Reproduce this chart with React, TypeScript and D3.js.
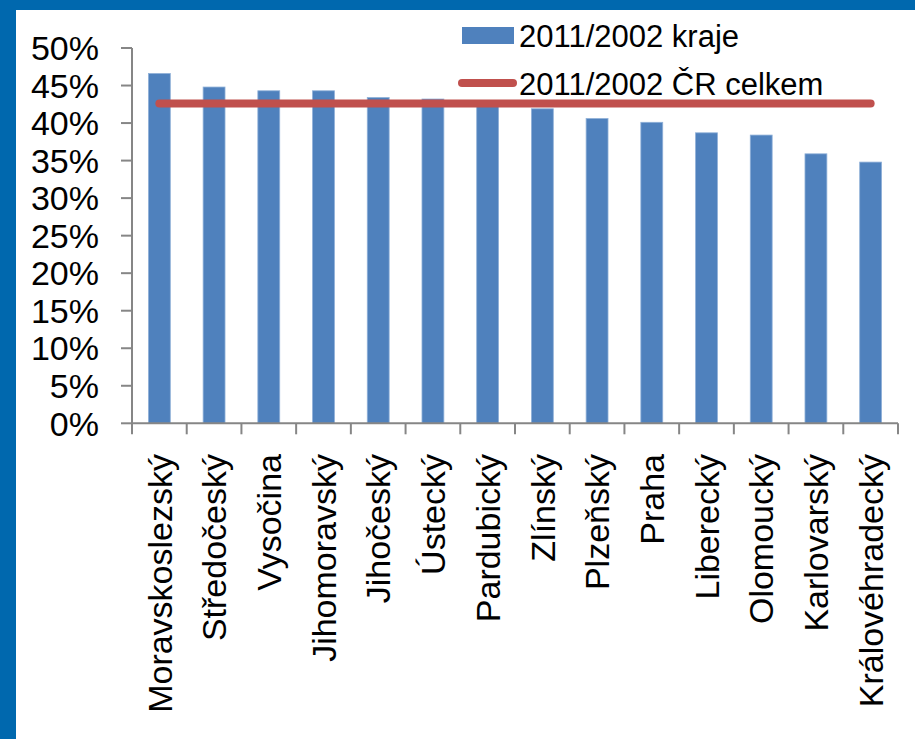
import React, { useEffect, useRef } from "react";
import * as d3 from "d3";

const regions = [
  "Moravskoslezský",
  "Středočeský",
  "Vysočina",
  "Jihomoravský",
  "Jihočeský",
  "Ústecký",
  "Pardubický",
  "Zlínský",
  "Plzeňský",
  "Praha",
  "Liberecký",
  "Olomoucký",
  "Karlovarský",
  "Královéhradecký",
];
const krajeValues = [
  46.6, 44.8, 44.3, 44.3, 43.4, 43.2, 42.9, 41.9, 40.6, 40.1, 38.7, 38.4, 35.9, 34.8,
];
const crTotal = 42.6;
const yTicks = [0, 5, 10, 15, 20, 25, 30, 35, 40, 45, 50];
const legendLabels = ["2011/2002 kraje", "2011/2002 ČR celkem"];

const W = 915;
const H = 739;
const FONT = "'Liberation Sans', Arial, sans-serif";

function Chart() {
  const ref = useRef<SVGSVGElement>(null);

  useEffect(() => {
    const svg = d3.select(ref.current);
    svg.selectAll("*").remove();

    // frame
    svg.append("rect").attr("width", W).attr("height", H).attr("fill", "#fff");
    svg.append("rect").attr("width", W).attr("height", 10).attr("fill", "#0068ae");
    svg.append("rect").attr("width", 16).attr("height", H).attr("fill", "#0068ae");

    const left = 132;
    const right = 898;
    const top = 48;
    const bottom = 423.3;

    const x = d3.scaleBand().domain(regions).range([left, right]).paddingInner(0.6).paddingOuter(0.3);
    const xEdge = d3.scaleLinear().domain([0, regions.length]).range([left, right]);
    const y = d3.scaleLinear().domain([0, 50]).range([bottom, top]);

    // bars
    svg
      .append("g")
      .selectAll("rect")
      .data(krajeValues)
      .join("rect")
      .attr("x", (_d, i) => x(regions[i])!)
      .attr("width", x.bandwidth())
      .attr("y", (d) => y(d))
      .attr("height", (d) => bottom - y(d))
      .attr("fill", "#4f81bd")
      .attr("stroke", "#8fb0d8")
      .attr("stroke-width", 0.8);

    // y axis
    const yAxis = svg.append("g").attr("stroke", "#868686").attr("stroke-width", 2);
    yAxis.append("line").attr("x1", left).attr("x2", left).attr("y1", top).attr("y2", bottom);
    yAxis
      .selectAll("line.tick")
      .data(yTicks)
      .join("line")
      .attr("class", "tick")
      .attr("x1", left - 11)
      .attr("x2", left)
      .attr("y1", (d) => y(d))
      .attr("y2", (d) => y(d));
    svg
      .append("g")
      .selectAll("text")
      .data(yTicks)
      .join("text")
      .attr("x", 99)
      .attr("y", (d) => y(d))
      .attr("dy", "0.36em")
      .attr("text-anchor", "end")
      .attr("font-family", FONT)
      .attr("font-size", 34)
      .attr("fill", "#000")
      .text((d) => d + "%");

    // x axis
    const xAxis = svg.append("g").attr("stroke", "#868686").attr("stroke-width", 2);
    xAxis.append("line").attr("x1", left).attr("x2", right).attr("y1", bottom).attr("y2", bottom);
    xAxis
      .selectAll("line.tick")
      .data(d3.range(regions.length + 1))
      .join("line")
      .attr("class", "tick")
      .attr("x1", (d) => xEdge(d))
      .attr("x2", (d) => xEdge(d))
      .attr("y1", bottom)
      .attr("y2", bottom + 11);
    svg
      .append("g")
      .selectAll("text")
      .data(regions)
      .join("text")
      .attr("transform", (d) => `translate(${x(d)! + x.bandwidth() / 2},454) rotate(-90)`)
      .attr("dy", "0.36em")
      .attr("text-anchor", "end")
      .attr("font-family", FONT)
      .attr("font-size", 34)
      .attr("fill", "#000")
      .text((d) => d);

    // total line
    svg
      .append("line")
      .attr("x1", x(regions[0])! + x.bandwidth() / 2)
      .attr("x2", x(regions[regions.length - 1])! + x.bandwidth() / 2)
      .attr("y1", y(crTotal))
      .attr("y2", y(crTotal))
      .attr("stroke", "#c0504d")
      .attr("stroke-width", 8)
      .attr("stroke-linecap", "round");

    // legend
    const lg = svg.append("g").attr("font-family", FONT).attr("font-size", 31);
    lg.append("rect").attr("x", 462).attr("y", 27).attr("width", 52).attr("height", 17).attr("fill", "#4f81bd");
    lg.append("text").attr("x", 519).attr("y", 47).text(legendLabels[0]);
    lg.append("line")
      .attr("x1", 462)
      .attr("x2", 513)
      .attr("y1", 83)
      .attr("y2", 83)
      .attr("stroke", "#c0504d")
      .attr("stroke-width", 8)
      .attr("stroke-linecap", "round");
    lg.append("text").attr("x", 519).attr("y", 95).text(legendLabels[1]);
  }, []);

  return <svg ref={ref} width={W} height={H} style={{ position: "absolute", left: 0, top: 0 }} />;
}

export default function App() {
  return <Chart />;
}
